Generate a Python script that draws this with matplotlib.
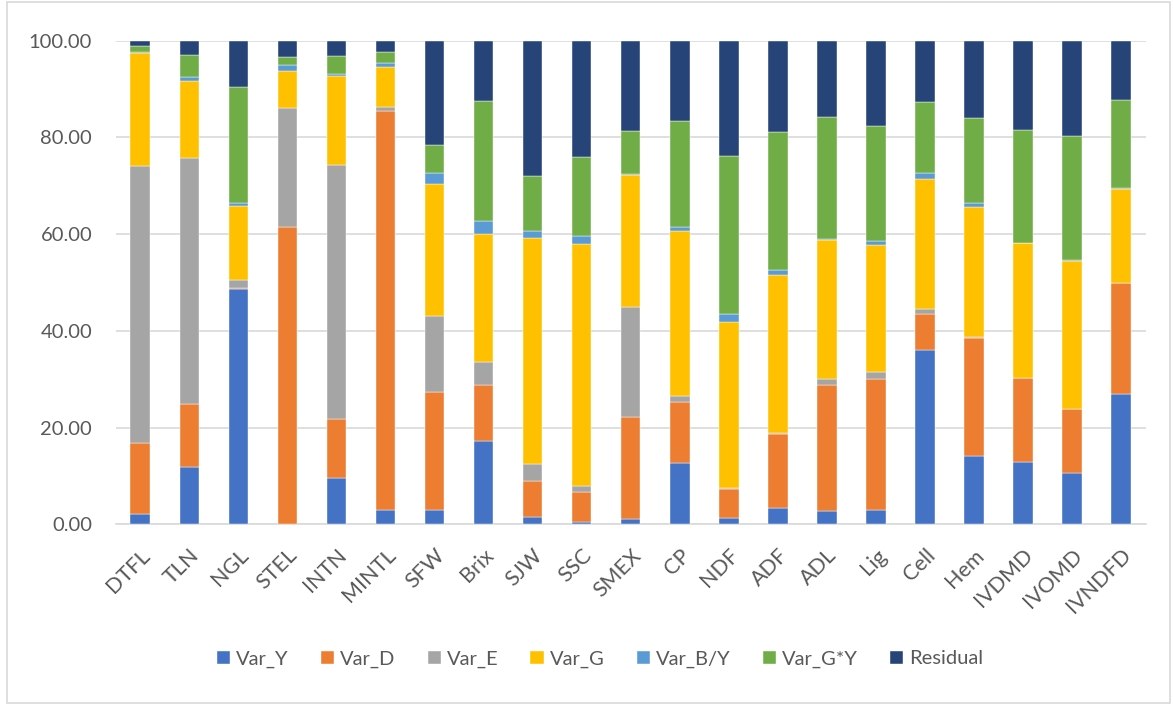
import matplotlib
matplotlib.use("Agg")
import matplotlib.pyplot as plt
from matplotlib.patches import Rectangle
from matplotlib.ticker import FormatStrFormatter

plt.rcParams['font.family'] = ['Lato', 'DejaVu Sans']

traits = ['DTFL', 'TLN', 'NGL', 'STEL', 'INTN', 'MINTL', 'SFW', 'Brix', 'SJW', 'SSC',
          'SMEX', 'CP', 'NDF', 'ADF', 'ADL', 'Lig', 'Cell', 'Hem', 'IVDMD', 'IVOMD', 'IVNDFD']

# variance components (% of total) per trait
var_y = [2.07, 11.78, 48.59, 0.10, 9.51, 2.89, 3.03, 17.30, 1.59, 0.41,
         1.03, 12.75, 1.24, 3.45, 2.76, 2.89, 35.98, 14.06, 12.82, 10.54, 26.88]
var_d = [14.68, 13.17, 0.21, 61.44, 12.20, 82.50, 24.26, 11.44, 7.30, 6.34,
         21.23, 12.47, 6.13, 15.30, 26.12, 27.23, 7.58, 24.53, 17.37, 13.31, 22.95]
var_e = [57.41, 50.72, 1.79, 24.46, 52.65, 0.96, 15.85, 4.89, 3.58, 1.11,
         22.61, 1.38, 0.13, 0.05, 1.17, 1.44, 0.89, 0.21, 0.00, 0.05, 0.07]
var_g = [23.36, 16.06, 15.23, 7.73, 18.40, 8.27, 27.16, 26.40, 46.73, 50.17,
         27.29, 34.05, 34.26, 32.75, 28.74, 26.19, 27.02, 26.81, 27.91, 30.48, 19.36]
var_by = [0.18, 0.69, 0.55, 1.17, 0.34, 0.76, 2.34, 2.69, 1.38, 1.52,
          0.34, 0.76, 1.66, 1.03, 0.21, 0.90, 1.24, 0.76, 0.07, 0.27, 0.28]
var_gy = [1.20, 4.62, 24.05, 1.70, 3.73, 2.28, 5.86, 24.81, 11.51, 16.33,
          8.89, 21.98, 32.73, 28.54, 25.29, 23.71, 14.54, 17.71, 23.36, 25.71, 18.12]
residual = [1.10, 2.96, 9.58, 3.40, 3.17, 2.34, 21.50, 12.47, 27.91, 24.12,
            18.61, 16.61, 23.85, 18.88, 15.71, 17.64, 12.75, 15.92, 18.47, 19.64, 12.34]

series = [
    ('Var_Y', var_y, '#4472C4'),
    ('Var_D', var_d, '#ED7D31'),
    ('Var_E', var_e, '#A5A5A5'),
    ('Var_G', var_g, '#FFC000'),
    ('Var_B/Y', var_by, '#5B9BD5'),
    ('Var_G*Y', var_gy, '#70AD47'),
    ('Residual', residual, '#264478'),
]

fig = plt.figure(figsize=(11.73, 7.04), dpi=100)
ax = fig.add_axes([0.0987, 0.2553, 0.8779, 0.6869])

x = range(len(traits))
bottom = [0.0] * len(traits)
for name, vals, col in series:
    ax.bar(x, vals, width=0.4, bottom=bottom, color=col, label=name,
           edgecolor='white', linewidth=0.3, zorder=3)
    bottom = [b + v for b, v in zip(bottom, vals)]

ax.set_xlim(-0.5, len(traits) - 0.5)
ax.set_ylim(0, 100)
ax.set_yticks([0, 20, 40, 60, 80, 100])
ax.yaxis.set_major_formatter(FormatStrFormatter('%.2f'))
ax.grid(axis='y', color='#D9D9D9', linewidth=1.2, zorder=0)
for s in ['top', 'right', 'left']:
    ax.spines[s].set_visible(False)
ax.spines['bottom'].set_color('#D9D9D9')
ax.spines['bottom'].set_linewidth(1.2)
ax.tick_params(axis='both', length=0, colors='#595959')
ax.tick_params(axis='y', pad=17, labelsize=14.5)
ax.set_xticks(list(x))
ax.set_xticklabels(traits, rotation=45, ha='right', va='top', rotation_mode='anchor')
ax.tick_params(axis='x', pad=15, labelsize=15.5)

fig.legend(loc='center', bbox_to_anchor=(600 / 1173, 1 - 659 / 704), ncol=7,
           frameon=False, fontsize=14.5, labelcolor='#595959',
           handlelength=0.65, handleheight=0.65, handletextpad=0.3,
           columnspacing=1.6)

# outer chart border
fig.patches.append(Rectangle((7 / 1173, 1 / 704), 1163 / 1173, 701 / 704,
                             transform=fig.transFigure, fill=False,
                             edgecolor='#D9D9D9', linewidth=1.2))

fig.savefig('out.png', dpi=100)
